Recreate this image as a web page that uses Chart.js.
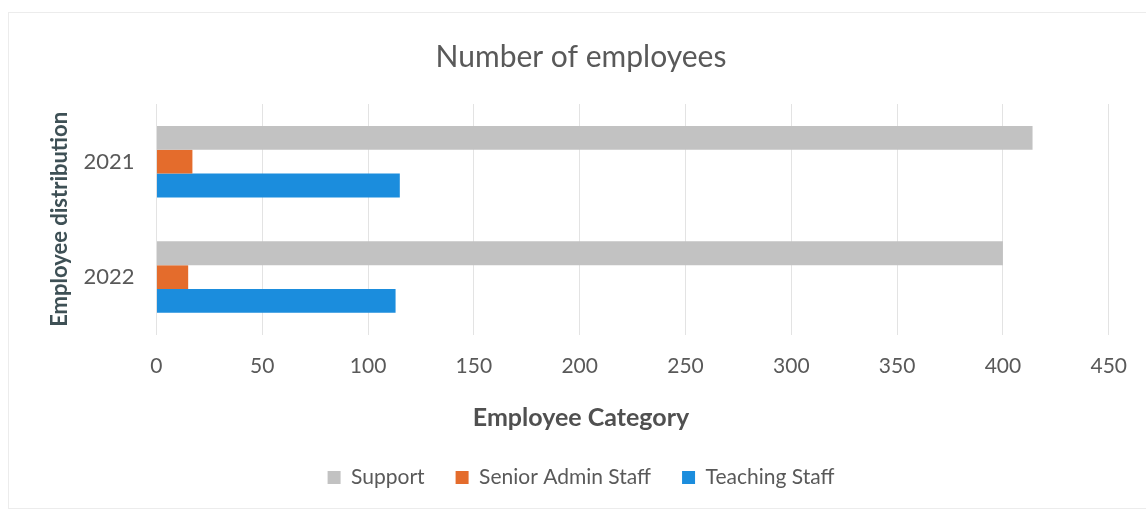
<!DOCTYPE html>
<html lang="en">
<head>
    <meta charset="UTF-8">
    <title>Number of employees</title>
    <style>
        html, body { margin: 0; padding: 0; background: #fff; }
        .wrap { position: relative; width: 1146px; height: 511px; overflow: hidden; }
        /* thin chart-area frame behind the canvas */
        .frame {
            position: absolute; left: 8px; top: 12px; width: 1160px; height: 495px;
            border: 1px solid #ececec; border-right: none;
        }
        canvas { position: relative; }
    </style>
</head>
<body>

<div class="wrap">
    <div class="frame"></div>
    <canvas id="myChart"></canvas>
</div>

<script src="https://cdn.jsdelivr.net/npm/chart.js@4.4.0/dist/chart.umd.min.js"></script>
<script>
    // years on the vertical axis
    var years = ['2021', '2022'];

    // headcount per category
    var support = [414, 400];
    var seniorAdmin = [17, 15];
    var teaching = [115, 113];

    var xMax = 450;
    var xStep = 50;

    var textColor = '#595959';
    var fontName = 'Lato, "Open Sans", sans-serif';

    function bar(label, values, color) {
        return {
            label: label,
            data: values,
            backgroundColor: color,
            borderWidth: 0,
            barPercentage: 1.0,
            categoryPercentage: 0.62
        };
    }

    var ctx = document.getElementById('myChart').getContext('2d');
    var myChart = new Chart(ctx, {
        type: 'bar',
        data: {
            labels: years,
            datasets: [
                bar('Support', support, '#c2c2c2'),
                bar('Senior Admin Staff', seniorAdmin, '#e46c2c'),
                bar('Teaching Staff', teaching, '#1b8ddd')
            ]
        },
        options: {
            indexAxis: 'y',
            responsive: true,
            maintainAspectRatio: false,
            animation: false,
            layout: {
                padding: { top: 0, right: 36, bottom: 13, left: 52 }
            },
            plugins: {
                title: {
                    display: true,
                    text: 'Number of employees',
                    color: textColor,
                    font: { family: fontName, size: 30, weight: 'normal' },
                    padding: { top: 39, bottom: 29 }
                },
                // x axis caption, centred on the whole chart and kept above the legend
                subtitle: {
                    display: true,
                    position: 'bottom',
                    weight: 500,
                    text: 'Employee Category',
                    color: '#505050',
                    font: { family: fontName, size: 25, weight: 'bold' },
                    padding: { top: 5, bottom: 3 }
                },
                legend: {
                    position: 'bottom',
                    labels: {
                        color: textColor,
                        font: { family: fontName, size: 21 },
                        boxWidth: 13,
                        boxHeight: 13,
                        padding: 31
                    }
                },
                tooltip: { enabled: false }
            },
            scales: {
                x: {
                    min: 0,
                    max: xMax,
                    ticks: {
                        stepSize: xStep,
                        color: textColor,
                        font: { family: fontName, size: 21 },
                        padding: 19
                    },
                    grid: {
                        color: '#e3e3e3',
                        drawTicks: false
                    },
                    border: { display: false }
                },
                y: {
                    ticks: {
                        color: textColor,
                        font: { family: fontName, size: 22 },
                        padding: 22
                    },
                    grid: { display: false, drawTicks: false },
                    border: { display: false },
                    title: {
                        display: true,
                        text: 'Employee distribution',
                        color: '#3e5055',
                        font: { family: fontName, size: 22, weight: 'bold' },
                        padding: { top: -5, bottom: -12 }
                    }
                }
            }
        }
    });
</script>

</body>
</html>
